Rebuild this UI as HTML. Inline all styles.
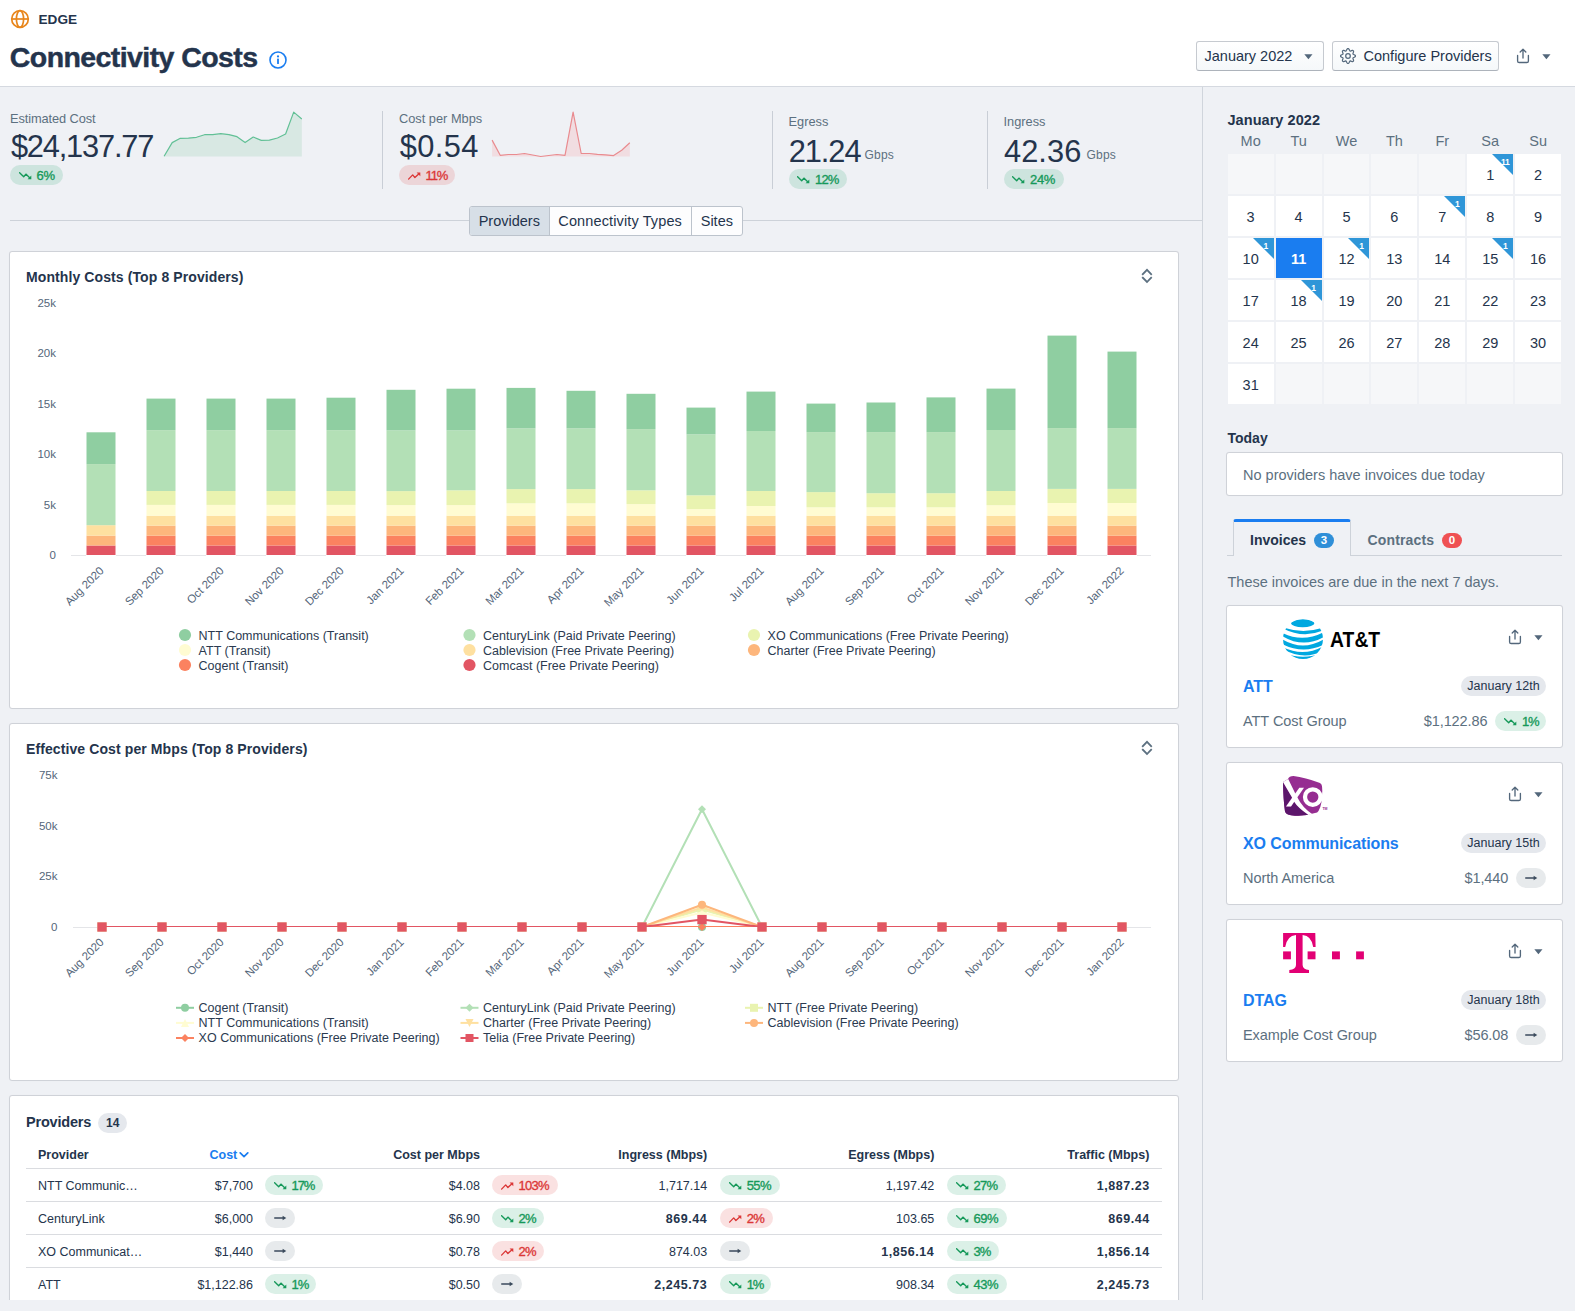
<!DOCTYPE html><html><head><meta charset="utf-8"><title>Connectivity Costs</title><style>
*{box-sizing:border-box}
html,body{margin:0;padding:0}
body{width:1575px;height:1311px;overflow:hidden;background:#eff1f5;font-family:"Liberation Sans",sans-serif;color:#24344c;font-size:14px;position:relative}
.abs{position:absolute}
.t{position:absolute;white-space:nowrap;line-height:1}
.hdr{position:absolute;left:0;top:0;width:1575px;height:87px;background:#fff;border-bottom:1px solid #d5d9e0}
.btn{position:absolute;height:30px;top:41px;border:1px solid #c6cad0;border-bottom-color:#adb3bb;border-radius:3px;background:linear-gradient(#fff,#f5f8fa);}
.muted{color:#5c7080}
.card{position:absolute;background:#fff;border:1px solid #cfd2d8;border-radius:3px;box-shadow:0 0 1px rgba(16,22,26,.06)}
.bd{display:inline-block;position:relative;height:20px;border-radius:10px;font-size:13px;line-height:22px;vertical-align:middle;white-space:nowrap}
.bd b{position:absolute;left:26.6px;top:0;font-weight:400;-webkit-text-stroke:.35px currentColor;letter-spacing:-.1px}
.bd.bg{background:rgba(15,153,96,.15);color:#16995a}
.bd.br{background:rgba(219,55,55,.15);color:#db3737}
.bd.bn{background:rgba(92,112,128,.15);color:#3b4a5c}
.bd .ti{position:absolute;left:8.8px;top:7px}
.bd.bn .ti{top:6.4px}
.vsep{position:absolute;width:1px;background:#c9ced6;top:111px;height:78px}
.tabs{position:absolute;left:469px;top:206px;height:30px;width:274px;display:flex;border:1px solid #bcc3cc;border-radius:3px;background:#fdfdfe;overflow:hidden}
.tabs div{line-height:29.5px;font-size:14.5px;border-right:1px solid #bcc3cc;white-space:nowrap;text-align:center}
.tabs div:last-child{border-right:0}
.tabs .on{background:#d7dfe7}
.cal{position:absolute;left:1227.7px;top:154px;width:333.4px;display:grid;grid-template-columns:repeat(7,1fr);gap:2px}
.cal div{height:40px;background:#fff;text-align:center;line-height:43px;font-size:14.5px;position:relative;overflow:hidden}
.cal .e{background:#f6f7f9}
.cal .sel{background:#1a7df0;color:#fff;font-weight:700}
.cal i{position:absolute;right:0;top:0;width:0;height:0;border-top:21.5px solid #2f96d8;border-left:21.5px solid transparent}
.cal em{position:absolute;right:2.5px;top:2.6px;font-style:normal;font-size:8.5px;font-weight:700;color:#fff;line-height:10px;width:11px;text-align:center;letter-spacing:-.3px}
.dow{position:absolute;top:133px;width:46px;text-align:center;font-size:14.5px;color:#5c7080;line-height:16px}
.pill{position:absolute;height:20px;border-radius:10px;background:#e5e8ed;font-size:12.5px;line-height:21.5px;padding:0 6.4px;white-space:nowrap;color:#24344c}
table{border-collapse:collapse}
.tbl{position:absolute;left:26px;top:1137px;width:1136px;font-size:12.5px}
.tbl .r{position:absolute;left:0;width:1136px;height:33px;border-top:1px solid #dadce0}
.tbl .c{position:absolute;white-space:nowrap;line-height:1;top:11px}
.tbl .h .c{top:11.6px}
.tbl .bn_{letter-spacing:.55px}
.tbl .ra{text-align:right}
.tbl .bd{position:absolute;top:5.5px}
</style></head><body>
<div class="hdr">
<svg class="abs" style="left:10px;top:9px" width="20" height="20" viewBox="0 0 20 20"><g fill="none" stroke="#e8861c" stroke-width="1.7"><circle cx="10" cy="10" r="8.3"/><ellipse cx="10" cy="10" rx="3.6" ry="8.3"/><path d="M1.7 10 H18.3"/></g></svg>
<div class="t" style="left:38.5px;top:13.2px;font-size:13.6px;font-weight:700;letter-spacing:0">EDGE</div>
<h1 class="t" style="margin:0;left:9.8px;top:42.6px;font-size:28.5px;font-weight:700;letter-spacing:-.58px;-webkit-text-stroke:.45px #24344c">Connectivity Costs</h1>
<svg class="abs" style="left:269px;top:51px" width="18" height="18" viewBox="0 0 18 18"><circle cx="9" cy="9" r="8" fill="none" stroke="#1a7df0" stroke-width="1.6"/><rect x="8.1" y="7.6" width="1.8" height="5.4" rx=".6" fill="#1a7df0"/><circle cx="9" cy="5.4" r="1.1" fill="#1a7df0"/></svg>
<div class="btn" style="left:1196px;width:128px"><span class="t" style="left:7.5px;top:7.4px;font-size:14.5px">January 2022</span><span class="abs" style="left:106.7px;top:11.8px;line-height:0"><svg width="9" height="6" viewBox="0 0 9 6"><path d="M0.3 0.3 H8.5 L4.4 5.2 Z" fill="#53677b"/></svg></span></div>
<div class="btn" style="left:1332px;width:167px"><span class="abs" style="left:6.95px;top:5.9px;line-height:0"><svg width="16" height="16" viewBox="0 0 16 16"><path d="M8.00 0.50 L8.48 0.66 L8.91 1.08 L9.26 1.67 L9.53 2.28 L9.78 2.75 L10.07 3.01 L10.45 3.03 L10.96 2.87 L11.58 2.64 L12.25 2.47 L12.85 2.47 L13.30 2.70 L13.53 3.15 L13.53 3.75 L13.36 4.42 L13.13 5.04 L12.97 5.55 L12.99 5.93 L13.25 6.22 L13.72 6.47 L14.33 6.74 L14.92 7.09 L15.34 7.52 L15.50 8.00 L15.34 8.48 L14.92 8.91 L14.33 9.26 L13.72 9.53 L13.25 9.78 L12.99 10.07 L12.97 10.45 L13.13 10.96 L13.36 11.58 L13.53 12.25 L13.53 12.85 L13.30 13.30 L12.85 13.53 L12.25 13.53 L11.58 13.36 L10.96 13.13 L10.45 12.97 L10.07 12.99 L9.78 13.25 L9.53 13.72 L9.26 14.33 L8.91 14.92 L8.48 15.34 L8.00 15.50 L7.52 15.34 L7.09 14.92 L6.74 14.33 L6.47 13.72 L6.22 13.25 L5.93 12.99 L5.55 12.97 L5.04 13.13 L4.42 13.36 L3.75 13.53 L3.15 13.53 L2.70 13.30 L2.47 12.85 L2.47 12.25 L2.64 11.58 L2.87 10.96 L3.03 10.45 L3.01 10.07 L2.75 9.78 L2.28 9.53 L1.67 9.26 L1.08 8.91 L0.66 8.48 L0.50 8.00 L0.66 7.52 L1.08 7.09 L1.67 6.74 L2.28 6.47 L2.75 6.22 L3.01 5.93 L3.03 5.55 L2.87 5.04 L2.64 4.42 L2.47 3.75 L2.47 3.15 L2.70 2.70 L3.15 2.47 L3.75 2.47 L4.42 2.64 L5.04 2.87 L5.55 3.03 L5.93 3.01 L6.22 2.75 L6.47 2.28 L6.74 1.67 L7.09 1.08 L7.52 0.66 Z" fill="none" stroke="#566a7e" stroke-width="1.25" stroke-linejoin="round"/><circle cx="8" cy="8" r="2.3" fill="none" stroke="#566a7e" stroke-width="1.25"/></svg></span><span class="t" style="left:30.5px;top:7.4px;font-size:14.5px">Configure Providers</span></div>
<span class="abs" style="left:1516px;top:48px;line-height:0"><svg width="14" height="16" viewBox="0 0 14 16"><path d="M1.6 7.4 V12.9 a1.6 1.6 0 0 0 1.6 1.6 H10.8 a1.6 1.6 0 0 0 1.6 -1.6 V7.4" fill="none" stroke="#53677b" stroke-width="1.35" stroke-linecap="round"/><path d="M7 10.1 V1.6 M4.2 4.1 L7 1.3 L9.8 4.1" fill="none" stroke="#53677b" stroke-width="1.35" stroke-linecap="round" stroke-linejoin="round"/></svg></span><span class="abs" style="left:1541.7px;top:53.8px;line-height:0"><svg width="9" height="6" viewBox="0 0 9 6"><path d="M0.3 0.3 H8.5 L4.4 5.2 Z" fill="#53677b"/></svg></span>
</div>
<div class="t muted" style="left:10px;top:113.4px;font-size:12.8px;letter-spacing:-.09px">Estimated Cost</div>
<div class="t" style="left:10.9px;top:132.4px;font-size:30.8px;letter-spacing:-1.18px">$24,137.77</div>
<svg class="abs" style="left:0;top:100px" width="700" height="70" viewBox="0 100 700 70"><path d="M164.1 156.3 L172.2 142.6 L180.3 138.3 L188.4 138.1 L196.5 137.3 L204.6 134.7 L212.7 134.7 L220.8 133.7 L228.9 134.7 L237.0 136.7 L245.1 142.6 L253.2 137.0 L261.3 140.4 L269.4 140.1 L277.5 138.0 L285.6 134.0 L293.7 112.1 L301.8 119.0 L301.8 156.4 L164.1 156.4 Z" fill="#d8e8e3"/><path d="M164.1 156.3 L172.2 142.6 L180.3 138.3 L188.4 138.1 L196.5 137.3 L204.6 134.7 L212.7 134.7 L220.8 133.7 L228.9 134.7 L237.0 136.7 L245.1 142.6 L253.2 137.0 L261.3 140.4 L269.4 140.1 L277.5 138.0 L285.6 134.0 L293.7 112.1 L301.8 119.0" fill="none" stroke="#62c096" stroke-width="1.2" stroke-linejoin="round"/></svg>
<div class="abs" style="left:10px;top:164.5px"><span class="bd bg" style="width:53.2px;"><svg class="ti" width="13" height="8" viewBox="0 0 13 8"><path d="M0.6 0.7 L4.7 4.8 L6.9 2.1 L10.4 5.6" fill="none" stroke="#16995a" stroke-width="1.35" stroke-linecap="round" stroke-linejoin="round"/><path d="M12.3 3.6 V7.2 H8.6 Z" fill="#16995a"/></svg><b style="letter-spacing:-0.44px">6%</b></span></div>
<div class="vsep" style="left:382px"></div>
<div class="t muted" style="left:399px;top:113.4px;font-size:12.8px">Cost per Mbps</div>
<div class="t" style="left:399.8px;top:132.4px;font-size:30.8px;letter-spacing:.4px">$0.54</div>
<svg class="abs" style="left:0;top:100px" width="700" height="70" viewBox="0 100 700 70"><path d="M492.1 140.1 L500.2 155.3 L508.3 154.5 L516.4 154.5 L524.5 153.5 L532.6 155.0 L540.7 156.5 L548.8 155.5 L556.9 154.5 L565.0 155.3 L573.1 112.1 L581.2 153.5 L589.3 153.5 L597.4 154.3 L605.5 154.8 L613.6 155.6 L621.7 150.2 L629.8 142.8 L629.8 156.4 L492.1 156.4 Z" fill="#f1dde1"/><path d="M492.1 140.1 L500.2 155.3 L508.3 154.5 L516.4 154.5 L524.5 153.5 L532.6 155.0 L540.7 156.5 L548.8 155.5 L556.9 154.5 L565.0 155.3 L573.1 112.1 L581.2 153.5 L589.3 153.5 L597.4 154.3 L605.5 154.8 L613.6 155.6 L621.7 150.2 L629.8 142.8" fill="none" stroke="#e98b8f" stroke-width="1.2" stroke-linejoin="round"/></svg>
<div class="abs" style="left:399px;top:164.5px"><span class="bd br" style="width:56.4px;"><svg class="ti" width="13" height="8" viewBox="0 0 13 8"><path d="M0.6 7.1 L4.7 2.9 L6.9 5.6 L10.4 2.2" fill="none" stroke="#db3737" stroke-width="1.35" stroke-linecap="round" stroke-linejoin="round"/><path d="M12.3 4.2 V0.6 H8.6 Z" fill="#db3737"/></svg><b style="letter-spacing:-1.15px">11%</b></span></div>
<div class="vsep" style="left:772px"></div>
<div class="t muted" style="left:788.5px;top:116px;font-size:12.8px">Egress</div>
<div class="t" style="left:788.7px;top:137.4px;font-size:30.8px;letter-spacing:-1.05px">21.24</div>
<div class="t muted" style="left:864.5px;top:148.5px;font-size:12px;letter-spacing:.2px">Gbps</div>
<div class="abs" style="left:788.5px;top:169px"><span class="bd bg" style="width:58.5px;"><svg class="ti" width="13" height="8" viewBox="0 0 13 8"><path d="M0.6 0.7 L4.7 4.8 L6.9 2.1 L10.4 5.6" fill="none" stroke="#16995a" stroke-width="1.35" stroke-linecap="round" stroke-linejoin="round"/><path d="M12.3 3.6 V7.2 H8.6 Z" fill="#16995a"/></svg><b style="letter-spacing:-0.94px">12%</b></span></div>
<div class="vsep" style="left:987px"></div>
<div class="t muted" style="left:1003.5px;top:116px;font-size:12.8px">Ingress</div>
<div class="t" style="left:1004px;top:137.4px;font-size:30.8px;letter-spacing:.05px">42.36</div>
<div class="t muted" style="left:1086.5px;top:148.5px;font-size:12px;letter-spacing:.2px">Gbps</div>
<div class="abs" style="left:1003.5px;top:169px"><span class="bd bg" style="width:60.1px;"><svg class="ti" width="13" height="8" viewBox="0 0 13 8"><path d="M0.6 0.7 L4.7 4.8 L6.9 2.1 L10.4 5.6" fill="none" stroke="#16995a" stroke-width="1.35" stroke-linecap="round" stroke-linejoin="round"/><path d="M12.3 3.6 V7.2 H8.6 Z" fill="#16995a"/></svg><b style="letter-spacing:-0.40px">24%</b></span></div>
<div class="abs" style="left:10px;top:220px;width:1192px;height:1px;background:#cdd2d9"></div>
<div class="tabs"><div class="on" style="width:79.6px">Providers</div><div style="width:142.1px;letter-spacing:.12px">Connectivity Types</div><div style="flex:1">Sites</div></div>
<section class="card" style="left:9px;top:251px;width:1170px;height:458px"></section>
<div class="t" style="left:26px;top:270px;font-size:14px;font-weight:700;letter-spacing:.1px">Monthly Costs (Top 8 Providers)</div>
<span class="abs" style="left:1141px;top:268px;line-height:0"><svg width="12" height="16" viewBox="0 0 12 16"><path d="M1.8 6.2 L6 1.9 L10.1 6.2 M1.8 9.7 L6 14 L10.1 9.7" fill="none" stroke="#5c7080" stroke-width="1.8" stroke-linecap="square" stroke-linejoin="miter"/></svg></span>
<svg class="abs" style="left:0;top:252px;font-family:'Liberation Sans', sans-serif" width="1190" height="460" viewBox="0 252 1190 460"><path d="M71 555.5 H1151" stroke="#e4e5e8" stroke-width="1"/><rect x="86.5" y="545.5" width="29" height="9.5" fill="#e25563"/><rect x="86.5" y="535.6" width="29" height="9.9" fill="#fdb67c"/><rect x="86.5" y="525.2" width="29" height="10.4" fill="#fee0a0"/><rect x="86.5" y="464.1" width="29" height="61.1" fill="#b3e0b6"/><rect x="86.5" y="432.3" width="29" height="31.8" fill="#8fcea1"/><rect x="86.0" y="555" width="30" height="1" fill="#fff"/><rect x="146.5" y="545.5" width="29" height="9.5" fill="#e25563"/><rect x="146.5" y="535.7" width="29" height="9.8" fill="#fb8260"/><rect x="146.5" y="525.6" width="29" height="10.1" fill="#fdb67c"/><rect x="146.5" y="515.7" width="29" height="9.9" fill="#fee0a0"/><rect x="146.5" y="504.9" width="29" height="10.8" fill="#fffcd2"/><rect x="146.5" y="491.0" width="29" height="13.9" fill="#e9f3b0"/><rect x="146.5" y="430.2" width="29" height="60.8" fill="#b3e0b6"/><rect x="146.5" y="398.6" width="29" height="31.6" fill="#8fcea1"/><rect x="146.0" y="555" width="30" height="1" fill="#fff"/><rect x="206.5" y="545.5" width="29" height="9.5" fill="#e25563"/><rect x="206.5" y="535.7" width="29" height="9.8" fill="#fb8260"/><rect x="206.5" y="525.6" width="29" height="10.1" fill="#fdb67c"/><rect x="206.5" y="515.7" width="29" height="9.9" fill="#fee0a0"/><rect x="206.5" y="504.9" width="29" height="10.8" fill="#fffcd2"/><rect x="206.5" y="491.0" width="29" height="13.9" fill="#e9f3b0"/><rect x="206.5" y="430.2" width="29" height="60.8" fill="#b3e0b6"/><rect x="206.5" y="398.6" width="29" height="31.6" fill="#8fcea1"/><rect x="206.0" y="555" width="30" height="1" fill="#fff"/><rect x="266.5" y="545.5" width="29" height="9.5" fill="#e25563"/><rect x="266.5" y="535.7" width="29" height="9.8" fill="#fb8260"/><rect x="266.5" y="525.6" width="29" height="10.1" fill="#fdb67c"/><rect x="266.5" y="515.7" width="29" height="9.9" fill="#fee0a0"/><rect x="266.5" y="504.9" width="29" height="10.8" fill="#fffcd2"/><rect x="266.5" y="491.0" width="29" height="13.9" fill="#e9f3b0"/><rect x="266.5" y="430.2" width="29" height="60.8" fill="#b3e0b6"/><rect x="266.5" y="398.6" width="29" height="31.6" fill="#8fcea1"/><rect x="266.0" y="555" width="30" height="1" fill="#fff"/><rect x="326.5" y="545.5" width="29" height="9.5" fill="#e25563"/><rect x="326.5" y="535.7" width="29" height="9.8" fill="#fb8260"/><rect x="326.5" y="525.6" width="29" height="10.1" fill="#fdb67c"/><rect x="326.5" y="515.7" width="29" height="9.9" fill="#fee0a0"/><rect x="326.5" y="504.9" width="29" height="10.8" fill="#fffcd2"/><rect x="326.5" y="491.0" width="29" height="13.9" fill="#e9f3b0"/><rect x="326.5" y="430.2" width="29" height="60.8" fill="#b3e0b6"/><rect x="326.5" y="397.7" width="29" height="32.5" fill="#8fcea1"/><rect x="326.0" y="555" width="30" height="1" fill="#fff"/><rect x="386.5" y="545.5" width="29" height="9.5" fill="#e25563"/><rect x="386.5" y="535.7" width="29" height="9.8" fill="#fb8260"/><rect x="386.5" y="525.6" width="29" height="10.1" fill="#fdb67c"/><rect x="386.5" y="515.7" width="29" height="9.9" fill="#fee0a0"/><rect x="386.5" y="505.1" width="29" height="10.6" fill="#fffcd2"/><rect x="386.5" y="491.1" width="29" height="14.0" fill="#e9f3b0"/><rect x="386.5" y="430.3" width="29" height="60.8" fill="#b3e0b6"/><rect x="386.5" y="389.8" width="29" height="40.5" fill="#8fcea1"/><rect x="386.0" y="555" width="30" height="1" fill="#fff"/><rect x="446.5" y="545.5" width="29" height="9.5" fill="#e25563"/><rect x="446.5" y="535.7" width="29" height="9.8" fill="#fb8260"/><rect x="446.5" y="525.6" width="29" height="10.1" fill="#fdb67c"/><rect x="446.5" y="515.7" width="29" height="9.9" fill="#fee0a0"/><rect x="446.5" y="505.1" width="29" height="10.6" fill="#fffcd2"/><rect x="446.5" y="490.3" width="29" height="14.8" fill="#e9f3b0"/><rect x="446.5" y="430.3" width="29" height="60.0" fill="#b3e0b6"/><rect x="446.5" y="388.7" width="29" height="41.6" fill="#8fcea1"/><rect x="446.0" y="555" width="30" height="1" fill="#fff"/><rect x="506.5" y="545.5" width="29" height="9.5" fill="#e25563"/><rect x="506.5" y="535.7" width="29" height="9.8" fill="#fb8260"/><rect x="506.5" y="525.6" width="29" height="10.1" fill="#fdb67c"/><rect x="506.5" y="515.7" width="29" height="9.9" fill="#fee0a0"/><rect x="506.5" y="503.3" width="29" height="12.4" fill="#fffcd2"/><rect x="506.5" y="489.1" width="29" height="14.2" fill="#e9f3b0"/><rect x="506.5" y="428.3" width="29" height="60.8" fill="#b3e0b6"/><rect x="506.5" y="387.9" width="29" height="40.4" fill="#8fcea1"/><rect x="506.0" y="555" width="30" height="1" fill="#fff"/><rect x="566.5" y="545.5" width="29" height="9.5" fill="#e25563"/><rect x="566.5" y="535.7" width="29" height="9.8" fill="#fb8260"/><rect x="566.5" y="525.6" width="29" height="10.1" fill="#fdb67c"/><rect x="566.5" y="515.7" width="29" height="9.9" fill="#fee0a0"/><rect x="566.5" y="503.3" width="29" height="12.4" fill="#fffcd2"/><rect x="566.5" y="489.1" width="29" height="14.2" fill="#e9f3b0"/><rect x="566.5" y="428.3" width="29" height="60.8" fill="#b3e0b6"/><rect x="566.5" y="390.8" width="29" height="37.5" fill="#8fcea1"/><rect x="566.0" y="555" width="30" height="1" fill="#fff"/><rect x="626.5" y="545.5" width="29" height="9.5" fill="#e25563"/><rect x="626.5" y="535.7" width="29" height="9.8" fill="#fb8260"/><rect x="626.5" y="525.6" width="29" height="10.1" fill="#fdb67c"/><rect x="626.5" y="515.7" width="29" height="9.9" fill="#fee0a0"/><rect x="626.5" y="504.1" width="29" height="11.6" fill="#fffcd2"/><rect x="626.5" y="490.3" width="29" height="13.8" fill="#e9f3b0"/><rect x="626.5" y="429.1" width="29" height="61.2" fill="#b3e0b6"/><rect x="626.5" y="393.8" width="29" height="35.3" fill="#8fcea1"/><rect x="626.0" y="555" width="30" height="1" fill="#fff"/><rect x="686.5" y="545.5" width="29" height="9.5" fill="#e25563"/><rect x="686.5" y="535.7" width="29" height="9.8" fill="#fb8260"/><rect x="686.5" y="525.6" width="29" height="10.1" fill="#fdb67c"/><rect x="686.5" y="515.7" width="29" height="9.9" fill="#fee0a0"/><rect x="686.5" y="509.1" width="29" height="6.6" fill="#fffcd2"/><rect x="686.5" y="495.3" width="29" height="13.8" fill="#e9f3b0"/><rect x="686.5" y="434.3" width="29" height="61.0" fill="#b3e0b6"/><rect x="686.5" y="407.6" width="29" height="26.7" fill="#8fcea1"/><rect x="686.0" y="555" width="30" height="1" fill="#fff"/><rect x="746.5" y="545.5" width="29" height="9.5" fill="#e25563"/><rect x="746.5" y="535.7" width="29" height="9.8" fill="#fb8260"/><rect x="746.5" y="525.6" width="29" height="10.1" fill="#fdb67c"/><rect x="746.5" y="515.7" width="29" height="9.9" fill="#fee0a0"/><rect x="746.5" y="506.0" width="29" height="9.7" fill="#fffcd2"/><rect x="746.5" y="491.0" width="29" height="15.0" fill="#e9f3b0"/><rect x="746.5" y="431.0" width="29" height="60.0" fill="#b3e0b6"/><rect x="746.5" y="391.6" width="29" height="39.4" fill="#8fcea1"/><rect x="746.0" y="555" width="30" height="1" fill="#fff"/><rect x="806.5" y="545.5" width="29" height="9.5" fill="#e25563"/><rect x="806.5" y="535.7" width="29" height="9.8" fill="#fb8260"/><rect x="806.5" y="525.6" width="29" height="10.1" fill="#fdb67c"/><rect x="806.5" y="515.7" width="29" height="9.9" fill="#fee0a0"/><rect x="806.5" y="507.3" width="29" height="8.4" fill="#fffcd2"/><rect x="806.5" y="492.1" width="29" height="15.2" fill="#e9f3b0"/><rect x="806.5" y="432.1" width="29" height="60.0" fill="#b3e0b6"/><rect x="806.5" y="403.6" width="29" height="28.5" fill="#8fcea1"/><rect x="806.0" y="555" width="30" height="1" fill="#fff"/><rect x="866.5" y="545.5" width="29" height="9.5" fill="#e25563"/><rect x="866.5" y="535.7" width="29" height="9.8" fill="#fb8260"/><rect x="866.5" y="525.6" width="29" height="10.1" fill="#fdb67c"/><rect x="866.5" y="515.7" width="29" height="9.9" fill="#fee0a0"/><rect x="866.5" y="507.3" width="29" height="8.4" fill="#fffcd2"/><rect x="866.5" y="493.2" width="29" height="14.1" fill="#e9f3b0"/><rect x="866.5" y="432.1" width="29" height="61.1" fill="#b3e0b6"/><rect x="866.5" y="402.5" width="29" height="29.6" fill="#8fcea1"/><rect x="866.0" y="555" width="30" height="1" fill="#fff"/><rect x="926.5" y="545.5" width="29" height="9.5" fill="#e25563"/><rect x="926.5" y="535.7" width="29" height="9.8" fill="#fb8260"/><rect x="926.5" y="525.6" width="29" height="10.1" fill="#fdb67c"/><rect x="926.5" y="515.7" width="29" height="9.9" fill="#fee0a0"/><rect x="926.5" y="507.3" width="29" height="8.4" fill="#fffcd2"/><rect x="926.5" y="493.2" width="29" height="14.1" fill="#e9f3b0"/><rect x="926.5" y="432.1" width="29" height="61.1" fill="#b3e0b6"/><rect x="926.5" y="397.4" width="29" height="34.7" fill="#8fcea1"/><rect x="926.0" y="555" width="30" height="1" fill="#fff"/><rect x="986.5" y="545.5" width="29" height="9.5" fill="#e25563"/><rect x="986.5" y="535.7" width="29" height="9.8" fill="#fb8260"/><rect x="986.5" y="525.6" width="29" height="10.1" fill="#fdb67c"/><rect x="986.5" y="515.7" width="29" height="9.9" fill="#fee0a0"/><rect x="986.5" y="505.2" width="29" height="10.5" fill="#fffcd2"/><rect x="986.5" y="491.0" width="29" height="14.2" fill="#e9f3b0"/><rect x="986.5" y="430.0" width="29" height="61.0" fill="#b3e0b6"/><rect x="986.5" y="388.6" width="29" height="41.4" fill="#8fcea1"/><rect x="986.0" y="555" width="30" height="1" fill="#fff"/><rect x="1047.5" y="545.5" width="29" height="9.5" fill="#e25563"/><rect x="1047.5" y="535.7" width="29" height="9.8" fill="#fb8260"/><rect x="1047.5" y="525.6" width="29" height="10.1" fill="#fdb67c"/><rect x="1047.5" y="515.7" width="29" height="9.9" fill="#fee0a0"/><rect x="1047.5" y="503.0" width="29" height="12.7" fill="#fffcd2"/><rect x="1047.5" y="488.9" width="29" height="14.1" fill="#e9f3b0"/><rect x="1047.5" y="428.1" width="29" height="60.8" fill="#b3e0b6"/><rect x="1047.5" y="335.6" width="29" height="92.5" fill="#8fcea1"/><rect x="1047.0" y="555" width="30" height="1" fill="#fff"/><rect x="1107.5" y="545.5" width="29" height="9.5" fill="#e25563"/><rect x="1107.5" y="535.7" width="29" height="9.8" fill="#fb8260"/><rect x="1107.5" y="525.6" width="29" height="10.1" fill="#fdb67c"/><rect x="1107.5" y="515.7" width="29" height="9.9" fill="#fee0a0"/><rect x="1107.5" y="503.0" width="29" height="12.7" fill="#fffcd2"/><rect x="1107.5" y="488.9" width="29" height="14.1" fill="#e9f3b0"/><rect x="1107.5" y="428.1" width="29" height="60.8" fill="#b3e0b6"/><rect x="1107.5" y="351.6" width="29" height="76.5" fill="#8fcea1"/><rect x="1107.0" y="555" width="30" height="1" fill="#fff"/><g font-size="11.5" fill="#54667a"><text x="56" y="307" text-anchor="end">25k</text><text x="56" y="357.4" text-anchor="end">20k</text><text x="56" y="407.8" text-anchor="end">15k</text><text x="56" y="458.2" text-anchor="end">10k</text><text x="56" y="508.6" text-anchor="end">5k</text><text x="56" y="559" text-anchor="end">0</text><text x="104.5" y="571.5" text-anchor="end" transform="rotate(-45 104.5 571.5)">Aug 2020</text><text x="164.5" y="571.5" text-anchor="end" transform="rotate(-45 164.5 571.5)">Sep 2020</text><text x="224.5" y="571.5" text-anchor="end" transform="rotate(-45 224.5 571.5)">Oct 2020</text><text x="284.5" y="571.5" text-anchor="end" transform="rotate(-45 284.5 571.5)">Nov 2020</text><text x="344.5" y="571.5" text-anchor="end" transform="rotate(-45 344.5 571.5)">Dec 2020</text><text x="404.5" y="571.5" text-anchor="end" transform="rotate(-45 404.5 571.5)">Jan 2021</text><text x="464.5" y="571.5" text-anchor="end" transform="rotate(-45 464.5 571.5)">Feb 2021</text><text x="524.5" y="571.5" text-anchor="end" transform="rotate(-45 524.5 571.5)">Mar 2021</text><text x="584.5" y="571.5" text-anchor="end" transform="rotate(-45 584.5 571.5)">Apr 2021</text><text x="644.5" y="571.5" text-anchor="end" transform="rotate(-45 644.5 571.5)">May 2021</text><text x="704.5" y="571.5" text-anchor="end" transform="rotate(-45 704.5 571.5)">Jun 2021</text><text x="764.5" y="571.5" text-anchor="end" transform="rotate(-45 764.5 571.5)">Jul 2021</text><text x="824.5" y="571.5" text-anchor="end" transform="rotate(-45 824.5 571.5)">Aug 2021</text><text x="884.5" y="571.5" text-anchor="end" transform="rotate(-45 884.5 571.5)">Sep 2021</text><text x="944.5" y="571.5" text-anchor="end" transform="rotate(-45 944.5 571.5)">Oct 2021</text><text x="1004.5" y="571.5" text-anchor="end" transform="rotate(-45 1004.5 571.5)">Nov 2021</text><text x="1064.5" y="571.5" text-anchor="end" transform="rotate(-45 1064.5 571.5)">Dec 2021</text><text x="1124.5" y="571.5" text-anchor="end" transform="rotate(-45 1124.5 571.5)">Jan 2022</text></g><g font-size="12.5" fill="#2b3a50"><circle cx="185" cy="635" r="6.1" fill="#8fcea1"/><text x="198.6" y="639.8">NTT Communications (Transit)</text><circle cx="469.5" cy="635" r="6.1" fill="#b3e0b6"/><text x="483.1" y="639.8">CenturyLink (Paid Private Peering)</text><circle cx="754" cy="635" r="6.1" fill="#e9f3b0"/><text x="767.6" y="639.8">XO Communications (Free Private Peering)</text><circle cx="185" cy="650" r="6.1" fill="#fffcd2"/><text x="198.6" y="654.8">ATT (Transit)</text><circle cx="469.5" cy="650" r="6.1" fill="#fee0a0"/><text x="483.1" y="654.8">Cablevision (Free Private Peering)</text><circle cx="754" cy="650" r="6.1" fill="#fdb67c"/><text x="767.6" y="654.8">Charter (Free Private Peering)</text><circle cx="185" cy="665" r="6.1" fill="#fb8260"/><text x="198.6" y="669.8">Cogent (Transit)</text><circle cx="469.5" cy="665" r="6.1" fill="#e25563"/><text x="483.1" y="669.8">Comcast (Free Private Peering)</text></g></svg>
<section class="card" style="left:9px;top:723px;width:1170px;height:358px"></section>
<div class="t" style="left:26px;top:742px;font-size:14px;font-weight:700;letter-spacing:.1px">Effective Cost per Mbps (Top 8 Providers)</div>
<span class="abs" style="left:1141px;top:740px;line-height:0"><svg width="12" height="16" viewBox="0 0 12 16"><path d="M1.8 6.2 L6 1.9 L10.1 6.2 M1.8 9.7 L6 14 L10.1 9.7" fill="none" stroke="#5c7080" stroke-width="1.8" stroke-linecap="square" stroke-linejoin="miter"/></svg></span>
<svg class="abs" style="left:0;top:724px;font-family:'Liberation Sans', sans-serif" width="1190" height="360" viewBox="0 724 1190 360"><defs><clipPath id="lc"><rect x="60" y="724" width="1110" height="203.0"/></clipPath></defs><path d="M73 927.5 H100 M1124 927.5 H1151" stroke="#e4e5e8" stroke-width="1"/><path clip-path="url(#lc)" d="M102 927.0 L162 927.0 L222 927.0 L282 927.0 L342 927.0 L402 927.0 L462 927.0 L522 927.0 L582 927.0 L642 927.0 L702 927.0 L762 927.0 L822 927.0 L882 927.0 L942 927.0 L1002 927.0 L1062 927.0 L1122 927.0" fill="none" stroke="#8fcea1" stroke-width="2" stroke-linejoin="round"/><circle cx="102" cy="927.0" r="4.0" fill="#8fcea1"/><circle cx="162" cy="927.0" r="4.0" fill="#8fcea1"/><circle cx="222" cy="927.0" r="4.0" fill="#8fcea1"/><circle cx="282" cy="927.0" r="4.0" fill="#8fcea1"/><circle cx="342" cy="927.0" r="4.0" fill="#8fcea1"/><circle cx="402" cy="927.0" r="4.0" fill="#8fcea1"/><circle cx="462" cy="927.0" r="4.0" fill="#8fcea1"/><circle cx="522" cy="927.0" r="4.0" fill="#8fcea1"/><circle cx="582" cy="927.0" r="4.0" fill="#8fcea1"/><circle cx="642" cy="927.0" r="4.0" fill="#8fcea1"/><circle cx="702" cy="927.0" r="4.0" fill="#8fcea1"/><circle cx="762" cy="927.0" r="4.0" fill="#8fcea1"/><circle cx="822" cy="927.0" r="4.0" fill="#8fcea1"/><circle cx="882" cy="927.0" r="4.0" fill="#8fcea1"/><circle cx="942" cy="927.0" r="4.0" fill="#8fcea1"/><circle cx="1002" cy="927.0" r="4.0" fill="#8fcea1"/><circle cx="1062" cy="927.0" r="4.0" fill="#8fcea1"/><circle cx="1122" cy="927.0" r="4.0" fill="#8fcea1"/><path clip-path="url(#lc)" d="M102 927.0 L162 927.0 L222 927.0 L282 927.0 L342 927.0 L402 927.0 L462 927.0 L522 927.0 L582 927.0 L642 927.0 L702 809.2 L762 927.0 L822 927.0 L882 927.0 L942 927.0 L1002 927.0 L1062 927.0 L1122 927.0" fill="none" stroke="#b3e0b6" stroke-width="2" stroke-linejoin="round"/><path d="M102 923.0 L106.0 927.0 L102 931.0 L98.0 927.0 Z" fill="#b3e0b6"/><path d="M162 923.0 L166.0 927.0 L162 931.0 L158.0 927.0 Z" fill="#b3e0b6"/><path d="M222 923.0 L226.0 927.0 L222 931.0 L218.0 927.0 Z" fill="#b3e0b6"/><path d="M282 923.0 L286.0 927.0 L282 931.0 L278.0 927.0 Z" fill="#b3e0b6"/><path d="M342 923.0 L346.0 927.0 L342 931.0 L338.0 927.0 Z" fill="#b3e0b6"/><path d="M402 923.0 L406.0 927.0 L402 931.0 L398.0 927.0 Z" fill="#b3e0b6"/><path d="M462 923.0 L466.0 927.0 L462 931.0 L458.0 927.0 Z" fill="#b3e0b6"/><path d="M522 923.0 L526.0 927.0 L522 931.0 L518.0 927.0 Z" fill="#b3e0b6"/><path d="M582 923.0 L586.0 927.0 L582 931.0 L578.0 927.0 Z" fill="#b3e0b6"/><path d="M642 923.0 L646.0 927.0 L642 931.0 L638.0 927.0 Z" fill="#b3e0b6"/><path d="M702 805.2 L706.0 809.2 L702 813.2 L698.0 809.2 Z" fill="#b3e0b6"/><path d="M762 923.0 L766.0 927.0 L762 931.0 L758.0 927.0 Z" fill="#b3e0b6"/><path d="M822 923.0 L826.0 927.0 L822 931.0 L818.0 927.0 Z" fill="#b3e0b6"/><path d="M882 923.0 L886.0 927.0 L882 931.0 L878.0 927.0 Z" fill="#b3e0b6"/><path d="M942 923.0 L946.0 927.0 L942 931.0 L938.0 927.0 Z" fill="#b3e0b6"/><path d="M1002 923.0 L1006.0 927.0 L1002 931.0 L998.0 927.0 Z" fill="#b3e0b6"/><path d="M1062 923.0 L1066.0 927.0 L1062 931.0 L1058.0 927.0 Z" fill="#b3e0b6"/><path d="M1122 923.0 L1126.0 927.0 L1122 931.0 L1118.0 927.0 Z" fill="#b3e0b6"/><path clip-path="url(#lc)" d="M102 927.0 L162 927.0 L222 927.0 L282 927.0 L342 927.0 L402 927.0 L462 927.0 L522 927.0 L582 927.0 L642 927.0 L702 909.5 L762 927.0 L822 927.0 L882 927.0 L942 927.0 L1002 927.0 L1062 927.0 L1122 927.0" fill="none" stroke="#e9f3b0" stroke-width="2" stroke-linejoin="round"/><rect x="97.32" y="922.32" width="9.36" height="9.36" fill="#e9f3b0"/><rect x="157.32" y="922.32" width="9.36" height="9.36" fill="#e9f3b0"/><rect x="217.32" y="922.32" width="9.36" height="9.36" fill="#e9f3b0"/><rect x="277.32" y="922.32" width="9.36" height="9.36" fill="#e9f3b0"/><rect x="337.32" y="922.32" width="9.36" height="9.36" fill="#e9f3b0"/><rect x="397.32" y="922.32" width="9.36" height="9.36" fill="#e9f3b0"/><rect x="457.32" y="922.32" width="9.36" height="9.36" fill="#e9f3b0"/><rect x="517.32" y="922.32" width="9.36" height="9.36" fill="#e9f3b0"/><rect x="577.32" y="922.32" width="9.36" height="9.36" fill="#e9f3b0"/><rect x="637.32" y="922.32" width="9.36" height="9.36" fill="#e9f3b0"/><rect x="697.32" y="904.82" width="9.36" height="9.36" fill="#e9f3b0"/><rect x="757.32" y="922.32" width="9.36" height="9.36" fill="#e9f3b0"/><rect x="817.32" y="922.32" width="9.36" height="9.36" fill="#e9f3b0"/><rect x="877.32" y="922.32" width="9.36" height="9.36" fill="#e9f3b0"/><rect x="937.32" y="922.32" width="9.36" height="9.36" fill="#e9f3b0"/><rect x="997.32" y="922.32" width="9.36" height="9.36" fill="#e9f3b0"/><rect x="1057.32" y="922.32" width="9.36" height="9.36" fill="#e9f3b0"/><rect x="1117.32" y="922.32" width="9.36" height="9.36" fill="#e9f3b0"/><path clip-path="url(#lc)" d="M102 927.0 L162 927.0 L222 927.0 L282 927.0 L342 927.0 L402 927.0 L462 927.0 L522 927.0 L582 927.0 L642 927.0 L702 912.5 L762 927.0 L822 927.0 L882 927.0 L942 927.0 L1002 927.0 L1062 927.0 L1122 927.0" fill="none" stroke="#fffcd2" stroke-width="2" stroke-linejoin="round"/><path d="M102 923.0 L106.0 931.0 L98.0 931.0 Z" fill="#fffcd2"/><path d="M162 923.0 L166.0 931.0 L158.0 931.0 Z" fill="#fffcd2"/><path d="M222 923.0 L226.0 931.0 L218.0 931.0 Z" fill="#fffcd2"/><path d="M282 923.0 L286.0 931.0 L278.0 931.0 Z" fill="#fffcd2"/><path d="M342 923.0 L346.0 931.0 L338.0 931.0 Z" fill="#fffcd2"/><path d="M402 923.0 L406.0 931.0 L398.0 931.0 Z" fill="#fffcd2"/><path d="M462 923.0 L466.0 931.0 L458.0 931.0 Z" fill="#fffcd2"/><path d="M522 923.0 L526.0 931.0 L518.0 931.0 Z" fill="#fffcd2"/><path d="M582 923.0 L586.0 931.0 L578.0 931.0 Z" fill="#fffcd2"/><path d="M642 923.0 L646.0 931.0 L638.0 931.0 Z" fill="#fffcd2"/><path d="M702 908.5 L706.0 916.5 L698.0 916.5 Z" fill="#fffcd2"/><path d="M762 923.0 L766.0 931.0 L758.0 931.0 Z" fill="#fffcd2"/><path d="M822 923.0 L826.0 931.0 L818.0 931.0 Z" fill="#fffcd2"/><path d="M882 923.0 L886.0 931.0 L878.0 931.0 Z" fill="#fffcd2"/><path d="M942 923.0 L946.0 931.0 L938.0 931.0 Z" fill="#fffcd2"/><path d="M1002 923.0 L1006.0 931.0 L998.0 931.0 Z" fill="#fffcd2"/><path d="M1062 923.0 L1066.0 931.0 L1058.0 931.0 Z" fill="#fffcd2"/><path d="M1122 923.0 L1126.0 931.0 L1118.0 931.0 Z" fill="#fffcd2"/><path clip-path="url(#lc)" d="M102 927.0 L162 927.0 L222 927.0 L282 927.0 L342 927.0 L402 927.0 L462 927.0 L522 927.0 L582 927.0 L642 927.0 L702 907.5 L762 927.0 L822 927.0 L882 927.0 L942 927.0 L1002 927.0 L1062 927.0 L1122 927.0" fill="none" stroke="#fee0a0" stroke-width="2" stroke-linejoin="round"/><path d="M98.0 923.0 L106.0 923.0 L102 931.0 Z" fill="#fee0a0"/><path d="M158.0 923.0 L166.0 923.0 L162 931.0 Z" fill="#fee0a0"/><path d="M218.0 923.0 L226.0 923.0 L222 931.0 Z" fill="#fee0a0"/><path d="M278.0 923.0 L286.0 923.0 L282 931.0 Z" fill="#fee0a0"/><path d="M338.0 923.0 L346.0 923.0 L342 931.0 Z" fill="#fee0a0"/><path d="M398.0 923.0 L406.0 923.0 L402 931.0 Z" fill="#fee0a0"/><path d="M458.0 923.0 L466.0 923.0 L462 931.0 Z" fill="#fee0a0"/><path d="M518.0 923.0 L526.0 923.0 L522 931.0 Z" fill="#fee0a0"/><path d="M578.0 923.0 L586.0 923.0 L582 931.0 Z" fill="#fee0a0"/><path d="M638.0 923.0 L646.0 923.0 L642 931.0 Z" fill="#fee0a0"/><path d="M698.0 903.5 L706.0 903.5 L702 911.5 Z" fill="#fee0a0"/><path d="M758.0 923.0 L766.0 923.0 L762 931.0 Z" fill="#fee0a0"/><path d="M818.0 923.0 L826.0 923.0 L822 931.0 Z" fill="#fee0a0"/><path d="M878.0 923.0 L886.0 923.0 L882 931.0 Z" fill="#fee0a0"/><path d="M938.0 923.0 L946.0 923.0 L942 931.0 Z" fill="#fee0a0"/><path d="M998.0 923.0 L1006.0 923.0 L1002 931.0 Z" fill="#fee0a0"/><path d="M1058.0 923.0 L1066.0 923.0 L1062 931.0 Z" fill="#fee0a0"/><path d="M1118.0 923.0 L1126.0 923.0 L1122 931.0 Z" fill="#fee0a0"/><path clip-path="url(#lc)" d="M102 927.0 L162 927.0 L222 927.0 L282 927.0 L342 927.0 L402 927.0 L462 927.0 L522 927.0 L582 927.0 L642 927.0 L702 904.8 L762 927.0 L822 927.0 L882 927.0 L942 927.0 L1002 927.0 L1062 927.0 L1122 927.0" fill="none" stroke="#fdb67c" stroke-width="2" stroke-linejoin="round"/><circle cx="102" cy="927.0" r="4.0" fill="#fdb67c"/><circle cx="162" cy="927.0" r="4.0" fill="#fdb67c"/><circle cx="222" cy="927.0" r="4.0" fill="#fdb67c"/><circle cx="282" cy="927.0" r="4.0" fill="#fdb67c"/><circle cx="342" cy="927.0" r="4.0" fill="#fdb67c"/><circle cx="402" cy="927.0" r="4.0" fill="#fdb67c"/><circle cx="462" cy="927.0" r="4.0" fill="#fdb67c"/><circle cx="522" cy="927.0" r="4.0" fill="#fdb67c"/><circle cx="582" cy="927.0" r="4.0" fill="#fdb67c"/><circle cx="642" cy="927.0" r="4.0" fill="#fdb67c"/><circle cx="702" cy="904.8" r="4.0" fill="#fdb67c"/><circle cx="762" cy="927.0" r="4.0" fill="#fdb67c"/><circle cx="822" cy="927.0" r="4.0" fill="#fdb67c"/><circle cx="882" cy="927.0" r="4.0" fill="#fdb67c"/><circle cx="942" cy="927.0" r="4.0" fill="#fdb67c"/><circle cx="1002" cy="927.0" r="4.0" fill="#fdb67c"/><circle cx="1062" cy="927.0" r="4.0" fill="#fdb67c"/><circle cx="1122" cy="927.0" r="4.0" fill="#fdb67c"/><path clip-path="url(#lc)" d="M102 927.0 L162 927.0 L222 927.0 L282 927.0 L342 927.0 L402 927.0 L462 927.0 L522 927.0 L582 927.0 L642 927.0 L702 927.0 L762 927.0 L822 927.0 L882 927.0 L942 927.0 L1002 927.0 L1062 927.0 L1122 927.0" fill="none" stroke="#fb8260" stroke-width="2" stroke-linejoin="round"/><path d="M102 923.0 L106.0 927.0 L102 931.0 L98.0 927.0 Z" fill="#fb8260"/><path d="M162 923.0 L166.0 927.0 L162 931.0 L158.0 927.0 Z" fill="#fb8260"/><path d="M222 923.0 L226.0 927.0 L222 931.0 L218.0 927.0 Z" fill="#fb8260"/><path d="M282 923.0 L286.0 927.0 L282 931.0 L278.0 927.0 Z" fill="#fb8260"/><path d="M342 923.0 L346.0 927.0 L342 931.0 L338.0 927.0 Z" fill="#fb8260"/><path d="M402 923.0 L406.0 927.0 L402 931.0 L398.0 927.0 Z" fill="#fb8260"/><path d="M462 923.0 L466.0 927.0 L462 931.0 L458.0 927.0 Z" fill="#fb8260"/><path d="M522 923.0 L526.0 927.0 L522 931.0 L518.0 927.0 Z" fill="#fb8260"/><path d="M582 923.0 L586.0 927.0 L582 931.0 L578.0 927.0 Z" fill="#fb8260"/><path d="M642 923.0 L646.0 927.0 L642 931.0 L638.0 927.0 Z" fill="#fb8260"/><path d="M702 923.0 L706.0 927.0 L702 931.0 L698.0 927.0 Z" fill="#fb8260"/><path d="M762 923.0 L766.0 927.0 L762 931.0 L758.0 927.0 Z" fill="#fb8260"/><path d="M822 923.0 L826.0 927.0 L822 931.0 L818.0 927.0 Z" fill="#fb8260"/><path d="M882 923.0 L886.0 927.0 L882 931.0 L878.0 927.0 Z" fill="#fb8260"/><path d="M942 923.0 L946.0 927.0 L942 931.0 L938.0 927.0 Z" fill="#fb8260"/><path d="M1002 923.0 L1006.0 927.0 L1002 931.0 L998.0 927.0 Z" fill="#fb8260"/><path d="M1062 923.0 L1066.0 927.0 L1062 931.0 L1058.0 927.0 Z" fill="#fb8260"/><path d="M1122 923.0 L1126.0 927.0 L1122 931.0 L1118.0 927.0 Z" fill="#fb8260"/><path clip-path="url(#lc)" d="M102 927.0 L162 927.0 L222 927.0 L282 927.0 L342 927.0 L402 927.0 L462 927.0 L522 927.0 L582 927.0 L642 927.0 L702 919.6 L762 927.0 L822 927.0 L882 927.0 L942 927.0 L1002 927.0 L1062 927.0 L1122 927.0" fill="none" stroke="#e25563" stroke-width="2" stroke-linejoin="round"/><rect x="97.32" y="922.32" width="9.36" height="9.36" fill="#e25563"/><rect x="157.32" y="922.32" width="9.36" height="9.36" fill="#e25563"/><rect x="217.32" y="922.32" width="9.36" height="9.36" fill="#e25563"/><rect x="277.32" y="922.32" width="9.36" height="9.36" fill="#e25563"/><rect x="337.32" y="922.32" width="9.36" height="9.36" fill="#e25563"/><rect x="397.32" y="922.32" width="9.36" height="9.36" fill="#e25563"/><rect x="457.32" y="922.32" width="9.36" height="9.36" fill="#e25563"/><rect x="517.32" y="922.32" width="9.36" height="9.36" fill="#e25563"/><rect x="577.32" y="922.32" width="9.36" height="9.36" fill="#e25563"/><rect x="637.32" y="922.32" width="9.36" height="9.36" fill="#e25563"/><rect x="697.32" y="914.9200000000001" width="9.36" height="9.36" fill="#e25563"/><rect x="757.32" y="922.32" width="9.36" height="9.36" fill="#e25563"/><rect x="817.32" y="922.32" width="9.36" height="9.36" fill="#e25563"/><rect x="877.32" y="922.32" width="9.36" height="9.36" fill="#e25563"/><rect x="937.32" y="922.32" width="9.36" height="9.36" fill="#e25563"/><rect x="997.32" y="922.32" width="9.36" height="9.36" fill="#e25563"/><rect x="1057.32" y="922.32" width="9.36" height="9.36" fill="#e25563"/><rect x="1117.32" y="922.32" width="9.36" height="9.36" fill="#e25563"/><g font-size="11.5" fill="#54667a"><text x="57.5" y="779" text-anchor="end">75k</text><text x="57.5" y="829.6" text-anchor="end">50k</text><text x="57.5" y="880.2" text-anchor="end">25k</text><text x="57.5" y="930.8" text-anchor="end">0</text><text x="104.5" y="943" text-anchor="end" transform="rotate(-45 104.5 943)">Aug 2020</text><text x="164.5" y="943" text-anchor="end" transform="rotate(-45 164.5 943)">Sep 2020</text><text x="224.5" y="943" text-anchor="end" transform="rotate(-45 224.5 943)">Oct 2020</text><text x="284.5" y="943" text-anchor="end" transform="rotate(-45 284.5 943)">Nov 2020</text><text x="344.5" y="943" text-anchor="end" transform="rotate(-45 344.5 943)">Dec 2020</text><text x="404.5" y="943" text-anchor="end" transform="rotate(-45 404.5 943)">Jan 2021</text><text x="464.5" y="943" text-anchor="end" transform="rotate(-45 464.5 943)">Feb 2021</text><text x="524.5" y="943" text-anchor="end" transform="rotate(-45 524.5 943)">Mar 2021</text><text x="584.5" y="943" text-anchor="end" transform="rotate(-45 584.5 943)">Apr 2021</text><text x="644.5" y="943" text-anchor="end" transform="rotate(-45 644.5 943)">May 2021</text><text x="704.5" y="943" text-anchor="end" transform="rotate(-45 704.5 943)">Jun 2021</text><text x="764.5" y="943" text-anchor="end" transform="rotate(-45 764.5 943)">Jul 2021</text><text x="824.5" y="943" text-anchor="end" transform="rotate(-45 824.5 943)">Aug 2021</text><text x="884.5" y="943" text-anchor="end" transform="rotate(-45 884.5 943)">Sep 2021</text><text x="944.5" y="943" text-anchor="end" transform="rotate(-45 944.5 943)">Oct 2021</text><text x="1004.5" y="943" text-anchor="end" transform="rotate(-45 1004.5 943)">Nov 2021</text><text x="1064.5" y="943" text-anchor="end" transform="rotate(-45 1064.5 943)">Dec 2021</text><text x="1124.5" y="943" text-anchor="end" transform="rotate(-45 1124.5 943)">Jan 2022</text></g><g font-size="12.5" fill="#2b3a50"><path d="M176 1007.8 H194" stroke="#8fcea1" stroke-width="2"/><circle cx="185" cy="1007.8" r="4.0" fill="#8fcea1"/><text x="198.6" y="1011.9">Cogent (Transit)</text><path d="M460.5 1007.8 H478.5" stroke="#b3e0b6" stroke-width="2"/><path d="M469.5 1003.8 L473.5 1007.8 L469.5 1011.8 L465.5 1007.8 Z" fill="#b3e0b6"/><text x="483.1" y="1011.9">CenturyLink (Paid Private Peering)</text><path d="M745 1007.8 H763" stroke="#e9f3b0" stroke-width="2"/><rect x="750.0" y="1003.8" width="8.0" height="8.0" fill="#e9f3b0"/><text x="767.6" y="1011.9">NTT (Free Private Peering)</text><path d="M176 1022.9 H194" stroke="#fffcd2" stroke-width="2"/><path d="M185 1018.9 L189.0 1026.9 L181.0 1026.9 Z" fill="#fffcd2"/><text x="198.6" y="1027.0">NTT Communications (Transit)</text><path d="M460.5 1022.9 H478.5" stroke="#fee0a0" stroke-width="2"/><path d="M465.5 1018.9 L473.5 1018.9 L469.5 1026.9 Z" fill="#fee0a0"/><text x="483.1" y="1027.0">Charter (Free Private Peering)</text><path d="M745 1022.9 H763" stroke="#fdb67c" stroke-width="2"/><circle cx="754" cy="1022.9" r="4.0" fill="#fdb67c"/><text x="767.6" y="1027.0">Cablevision (Free Private Peering)</text><path d="M176 1038.0 H194" stroke="#fb8260" stroke-width="2"/><path d="M185 1034.0 L189.0 1038.0 L185 1042.0 L181.0 1038.0 Z" fill="#fb8260"/><text x="198.6" y="1042.1">XO Communications (Free Private Peering)</text><path d="M460.5 1038.0 H478.5" stroke="#e25563" stroke-width="2"/><rect x="465.5" y="1034.0" width="8.0" height="8.0" fill="#e25563"/><text x="483.1" y="1042.1">Telia (Free Private Peering)</text></g></svg>
<section class="card" style="left:9px;top:1095px;width:1170px;height:230px"></section>
<div class="t" style="left:26px;top:1115px;font-size:14.5px;font-weight:700;letter-spacing:-.2px">Providers</div>
<div class="pill" style="left:98px;top:1112.5px;font-weight:700;font-size:12px;padding:0 8px">14</div>
<div class="tbl">
<div class="r h" style="top:0;border-top:0;font-weight:700">
<span class="c" style="left:12px">Provider</span>
<span class="c" style="left:183.5px;color:#1a7df0">Cost<svg style="margin-left:2px;vertical-align:0" width="10" height="8" viewBox="0 0 10 8"><path d="M1.2 1.8 L5 5.6 L8.8 1.8" fill="none" stroke="#1a7df0" stroke-width="1.7" stroke-linecap="round" stroke-linejoin="round"/></svg></span>
<span class="c ra" style="right:682px">Cost per Mbps</span>
<span class="c ra" style="right:454.79999999999995px">Ingress (Mbps)</span>
<span class="c ra" style="right:227.70000000000005px">Egress (Mbps)</span>
<span class="c ra" style="right:12.700000000000045px">Traffic (Mbps)</span>
</div>
<div class="r" style="top:31px">
<span class="c" style="left:12px">NTT Communic…</span>
<span class="c ra" style="right:909px">$7,700</span>
<span class="bd bg" style="width:57.6px;left:239px"><svg class="ti" width="13" height="8" viewBox="0 0 13 8"><path d="M0.6 0.7 L4.7 4.8 L6.9 2.1 L10.4 5.6" fill="none" stroke="#16995a" stroke-width="1.35" stroke-linecap="round" stroke-linejoin="round"/><path d="M12.3 3.6 V7.2 H8.6 Z" fill="#16995a"/></svg><b style="letter-spacing:-1.15px">17%</b></span>
<span class="c ra" style="right:682px">$4.08</span>
<span class="bd br" style="width:65.5px;left:466px"><svg class="ti" width="13" height="8" viewBox="0 0 13 8"><path d="M0.6 7.1 L4.7 2.9 L6.9 5.6 L10.4 2.2" fill="none" stroke="#db3737" stroke-width="1.35" stroke-linecap="round" stroke-linejoin="round"/><path d="M12.3 4.2 V0.6 H8.6 Z" fill="#db3737"/></svg><b style="letter-spacing:-0.76px">103%</b></span>
<span class="c ra" style="right:454.79999999999995px;">1,717.14</span>
<span class="bd bg" style="width:59.4px;left:694.2px"><svg class="ti" width="13" height="8" viewBox="0 0 13 8"><path d="M0.6 0.7 L4.7 4.8 L6.9 2.1 L10.4 5.6" fill="none" stroke="#16995a" stroke-width="1.35" stroke-linecap="round" stroke-linejoin="round"/><path d="M12.3 3.6 V7.2 H8.6 Z" fill="#16995a"/></svg><b style="letter-spacing:-0.64px">55%</b></span>
<span class="c ra" style="right:227.70000000000005px;">1,197.42</span>
<span class="bd bg" style="width:59.1px;left:921px"><svg class="ti" width="13" height="8" viewBox="0 0 13 8"><path d="M0.6 0.7 L4.7 4.8 L6.9 2.1 L10.4 5.6" fill="none" stroke="#16995a" stroke-width="1.35" stroke-linecap="round" stroke-linejoin="round"/><path d="M12.3 3.6 V7.2 H8.6 Z" fill="#16995a"/></svg><b style="letter-spacing:-0.74px">27%</b></span>
<span class="c ra" style="right:12.200000000000045px;font-weight:700;letter-spacing:.55px">1,887.23</span>
</div>
<div class="r" style="top:64px">
<span class="c" style="left:12px">CenturyLink</span>
<span class="c ra" style="right:909px">$6,000</span>
<span class="bd bn" style="width:29.8px;left:239px"><svg class="ti" width="13" height="8" viewBox="0 0 13 8"><path d="M0.7 4 H9" fill="none" stroke="#3b4a5c" stroke-width="1.3" stroke-linecap="round"/><path d="M12.3 4 L8.6 1.7 V6.3 Z" fill="#3b4a5c"/></svg></span>
<span class="c ra" style="right:682px">$6.90</span>
<span class="bd bg" style="width:52.4px;left:466px"><svg class="ti" width="13" height="8" viewBox="0 0 13 8"><path d="M0.6 0.7 L4.7 4.8 L6.9 2.1 L10.4 5.6" fill="none" stroke="#16995a" stroke-width="1.35" stroke-linecap="round" stroke-linejoin="round"/><path d="M12.3 3.6 V7.2 H8.6 Z" fill="#16995a"/></svg><b style="letter-spacing:-0.84px">2%</b></span>
<span class="c ra" style="right:454.79999999999995px;font-weight:700;letter-spacing:.55px">869.44</span>
<span class="bd br" style="width:52.4px;left:694.2px"><svg class="ti" width="13" height="8" viewBox="0 0 13 8"><path d="M0.6 7.1 L4.7 2.9 L6.9 5.6 L10.4 2.2" fill="none" stroke="#db3737" stroke-width="1.35" stroke-linecap="round" stroke-linejoin="round"/><path d="M12.3 4.2 V0.6 H8.6 Z" fill="#db3737"/></svg><b style="letter-spacing:-0.84px">2%</b></span>
<span class="c ra" style="right:227.70000000000005px;">103.65</span>
<span class="bd bg" style="width:59.9px;left:921px"><svg class="ti" width="13" height="8" viewBox="0 0 13 8"><path d="M0.6 0.7 L4.7 4.8 L6.9 2.1 L10.4 5.6" fill="none" stroke="#16995a" stroke-width="1.35" stroke-linecap="round" stroke-linejoin="round"/><path d="M12.3 3.6 V7.2 H8.6 Z" fill="#16995a"/></svg><b style="letter-spacing:-0.47px">69%</b></span>
<span class="c ra" style="right:12.200000000000045px;font-weight:700;letter-spacing:.55px">869.44</span>
</div>
<div class="r" style="top:97px">
<span class="c" style="left:12px">XO Communicat…</span>
<span class="c ra" style="right:909px">$1,440</span>
<span class="bd bn" style="width:29.8px;left:239px"><svg class="ti" width="13" height="8" viewBox="0 0 13 8"><path d="M0.7 4 H9" fill="none" stroke="#3b4a5c" stroke-width="1.3" stroke-linecap="round"/><path d="M12.3 4 L8.6 1.7 V6.3 Z" fill="#3b4a5c"/></svg></span>
<span class="c ra" style="right:682px">$0.78</span>
<span class="bd br" style="width:52.4px;left:466px"><svg class="ti" width="13" height="8" viewBox="0 0 13 8"><path d="M0.6 7.1 L4.7 2.9 L6.9 5.6 L10.4 2.2" fill="none" stroke="#db3737" stroke-width="1.35" stroke-linecap="round" stroke-linejoin="round"/><path d="M12.3 4.2 V0.6 H8.6 Z" fill="#db3737"/></svg><b style="letter-spacing:-0.84px">2%</b></span>
<span class="c ra" style="right:454.79999999999995px;">874.03</span>
<span class="bd bn" style="width:29.8px;left:694.2px"><svg class="ti" width="13" height="8" viewBox="0 0 13 8"><path d="M0.7 4 H9" fill="none" stroke="#3b4a5c" stroke-width="1.3" stroke-linecap="round"/><path d="M12.3 4 L8.6 1.7 V6.3 Z" fill="#3b4a5c"/></svg></span>
<span class="c ra" style="right:227.70000000000005px;font-weight:700;letter-spacing:.55px">1,856.14</span>
<span class="bd bg" style="width:51.6px;left:921px"><svg class="ti" width="13" height="8" viewBox="0 0 13 8"><path d="M0.6 0.7 L4.7 4.8 L6.9 2.1 L10.4 5.6" fill="none" stroke="#16995a" stroke-width="1.35" stroke-linecap="round" stroke-linejoin="round"/><path d="M12.3 3.6 V7.2 H8.6 Z" fill="#16995a"/></svg><b style="letter-spacing:-1.15px">3%</b></span>
<span class="c ra" style="right:12.200000000000045px;font-weight:700;letter-spacing:.55px">1,856.14</span>
</div>
<div class="r" style="top:130px">
<span class="c" style="left:12px">ATT</span>
<span class="c ra" style="right:909px">$1,122.86</span>
<span class="bd bg" style="width:50.6px;left:239px"><svg class="ti" width="13" height="8" viewBox="0 0 13 8"><path d="M0.6 0.7 L4.7 4.8 L6.9 2.1 L10.4 5.6" fill="none" stroke="#16995a" stroke-width="1.35" stroke-linecap="round" stroke-linejoin="round"/><path d="M12.3 3.6 V7.2 H8.6 Z" fill="#16995a"/></svg><b style="letter-spacing:-1.15px">1%</b></span>
<span class="c ra" style="right:682px">$0.50</span>
<span class="bd bn" style="width:29.8px;left:466px"><svg class="ti" width="13" height="8" viewBox="0 0 13 8"><path d="M0.7 4 H9" fill="none" stroke="#3b4a5c" stroke-width="1.3" stroke-linecap="round"/><path d="M12.3 4 L8.6 1.7 V6.3 Z" fill="#3b4a5c"/></svg></span>
<span class="c ra" style="right:454.79999999999995px;font-weight:700;letter-spacing:.55px">2,245.73</span>
<span class="bd bg" style="width:50.6px;left:694.2px"><svg class="ti" width="13" height="8" viewBox="0 0 13 8"><path d="M0.6 0.7 L4.7 4.8 L6.9 2.1 L10.4 5.6" fill="none" stroke="#16995a" stroke-width="1.35" stroke-linecap="round" stroke-linejoin="round"/><path d="M12.3 3.6 V7.2 H8.6 Z" fill="#16995a"/></svg><b style="letter-spacing:-1.15px">1%</b></span>
<span class="c ra" style="right:227.70000000000005px;">908.34</span>
<span class="bd bg" style="width:59.9px;left:921px"><svg class="ti" width="13" height="8" viewBox="0 0 13 8"><path d="M0.6 0.7 L4.7 4.8 L6.9 2.1 L10.4 5.6" fill="none" stroke="#16995a" stroke-width="1.35" stroke-linecap="round" stroke-linejoin="round"/><path d="M12.3 3.6 V7.2 H8.6 Z" fill="#16995a"/></svg><b style="letter-spacing:-0.47px">43%</b></span>
<span class="c ra" style="right:12.200000000000045px;font-weight:700;letter-spacing:.55px">2,245.73</span>
</div>
</div>
<div class="abs" style="left:0;top:1300px;width:1575px;height:11px;background:#eff1f5"></div>
<div class="abs" style="left:1202px;top:87px;width:1px;height:1213px;background:#d0d5dc"></div>
<div class="t" style="left:1227.5px;top:112.5px;font-size:14.5px;font-weight:700;letter-spacing:.05px">January 2022</div>
<div class="dow" style="left:1227.7px">Mo</div>
<div class="dow" style="left:1275.6px">Tu</div>
<div class="dow" style="left:1323.5px">We</div>
<div class="dow" style="left:1371.4px">Th</div>
<div class="dow" style="left:1419.3px">Fr</div>
<div class="dow" style="left:1467.2px">Sa</div>
<div class="dow" style="left:1515.1px">Su</div>
<div class="cal">
<div class="e"></div>
<div class="e"></div>
<div class="e"></div>
<div class="e"></div>
<div class="e"></div>
<div>1<i></i><em>11</em></div>
<div>2</div>
<div>3</div>
<div>4</div>
<div>5</div>
<div>6</div>
<div>7<i></i><em>1</em></div>
<div>8</div>
<div>9</div>
<div>10<i></i><em>1</em></div>
<div class="sel">11</div>
<div>12<i></i><em>1</em></div>
<div>13</div>
<div>14</div>
<div>15<i></i><em>1</em></div>
<div>16</div>
<div>17</div>
<div>18<i></i><em>1</em></div>
<div>19</div>
<div>20</div>
<div>21</div>
<div>22</div>
<div>23</div>
<div>24</div>
<div>25</div>
<div>26</div>
<div>27</div>
<div>28</div>
<div>29</div>
<div>30</div>
<div>31</div>
<div class="e"></div>
<div class="e"></div>
<div class="e"></div>
<div class="e"></div>
<div class="e"></div>
<div class="e"></div>
</div>
<div class="t" style="left:1227.5px;top:431px;font-size:14px;font-weight:700">Today</div>
<div class="card" style="left:1226px;top:452px;width:337px;height:44px;border-radius:3px"></div>
<div class="t muted" style="left:1243px;top:467.5px;font-size:14.5px">No providers have invoices due today</div>
<div class="abs" style="left:1227px;top:555px;width:335px;height:1px;background:#cdd2d9"></div>
<div class="abs" style="left:1233px;top:519px;width:118px;height:37px;border:1px solid #cdd2d9;border-bottom:0;border-top:3px solid #1a7df0;border-radius:3px 3px 0 0;background:#eff1f5"></div>
<div class="t" style="left:1250px;top:533px;font-size:14px;font-weight:700">Invoices</div>
<div class="abs" style="left:1314px;top:532.5px;width:20px;height:15.5px;border-radius:8px;background:#2f8fd8;color:#fff;font-size:11.5px;font-weight:700;text-align:center;line-height:15.5px">3</div>
<div class="t muted" style="left:1367.5px;top:533px;font-size:14px;font-weight:700;letter-spacing:.15px">Contracts</div>
<div class="abs" style="left:1442px;top:532.5px;width:20px;height:15.5px;border-radius:8px;background:#ef5153;color:#fff;font-size:11.5px;font-weight:700;text-align:center;line-height:15.5px">0</div>
<div class="t muted" style="left:1227.5px;top:575px;font-size:14.5px">These invoices are due in the next 7 days.</div>
<div class="card" style="left:1226px;top:605.0px;width:337px;height:143px"></div>
<svg class="abs" style="left:1283px;top:618.7px" width="100" height="41" viewBox="0 0 100 41"><defs><clipPath id="ag"><circle cx="20" cy="20" r="20"/></clipPath></defs><g clip-path="url(#ag)" fill="#00a8e0"><ellipse cx="19.7" cy="4.25" rx="11.7" ry="4.05"/><path d="M0 8.6 Q20 15.10 40 8.8 L40 11.6 Q20 19.85 0 9.5 Z"/><path d="M0 14.3 Q20 23.75 40 13.4 L40 18.5 Q20 29.25 0 17.4 Z"/><path d="M0 20.7 Q20 32.30 40 20.7 L40 26.1 Q20 35.25 0 25.4 Z"/><path d="M0 28.3 Q20 38.25 40 27.6 L40 32.0 Q20 41.80 0 30.0 Z"/><path d="M0 33.5 Q20 42.10 40 33.5 L40 41 Q20 43.00 0 41 Z"/></g><text x="47.1" y="28" font-family="Liberation Sans, sans-serif" font-weight="700" font-size="22.6" textLength="50" lengthAdjust="spacingAndGlyphs" fill="#000">AT&amp;T</text></svg>
<span class="abs" style="left:1508px;top:629.0px;line-height:0"><svg width="14" height="16" viewBox="0 0 14 16"><path d="M1.6 7.4 V12.9 a1.6 1.6 0 0 0 1.6 1.6 H10.8 a1.6 1.6 0 0 0 1.6 -1.6 V7.4" fill="none" stroke="#53677b" stroke-width="1.35" stroke-linecap="round"/><path d="M7 10.1 V1.6 M4.2 4.1 L7 1.3 L9.8 4.1" fill="none" stroke="#53677b" stroke-width="1.35" stroke-linecap="round" stroke-linejoin="round"/></svg></span><span class="abs" style="left:1533.5px;top:635.0px;line-height:0"><svg width="9" height="6" viewBox="0 0 9 6"><path d="M0.3 0.3 H8.5 L4.4 5.2 Z" fill="#53677b"/></svg></span>
<div class="t" style="left:1243px;top:678.5px;font-size:16px;font-weight:700;color:#1a7df0;letter-spacing:-.1px">ATT</div>
<div class="pill" style="right:29px;top:676.0px">January 12th</div>
<div class="t muted" style="left:1243px;top:714.0px;font-size:14.5px;letter-spacing:-.05px">ATT Cost Group</div>
<div class="abs" style="right:29px;top:711.0px;display:flex;align-items:center"><span class="muted" style="font-size:14.5px;letter-spacing:-.1px;margin-right:8px;line-height:19px">$1,122.86</span><span class="bd bg" style="width:50.6px;"><svg class="ti" width="13" height="8" viewBox="0 0 13 8"><path d="M0.6 0.7 L4.7 4.8 L6.9 2.1 L10.4 5.6" fill="none" stroke="#16995a" stroke-width="1.35" stroke-linecap="round" stroke-linejoin="round"/><path d="M12.3 3.6 V7.2 H8.6 Z" fill="#16995a"/></svg><b style="letter-spacing:-1.15px">1%</b></span></div>
<div class="card" style="left:1226px;top:762.0px;width:337px;height:143px"></div>
<svg class="abs" style="left:1275px;top:770px" width="60" height="52" viewBox="0 0 60 52"><defs><clipPath id="xs"><path id="xsp" d="M8 12 L13 9 Q14 6 18.5 6 Q30 7.3 45 13 Q47 14 47.05 16.5 L47.3 21 L46.5 32 Q45.5 38 43.5 41 Q42.5 43 40 43 Q30 46.3 20 45.7 Q11 45.5 10 41.5 Q8.3 30 8 12 Z"/></clipPath></defs><path d="M8 12 L13 9 Q14 6 18.5 6 Q30 7.3 45 13 Q47 14 47.05 16.5 L47.3 21 L46.5 32 Q45.5 38 43.5 41 Q42.5 43 40 43 Q30 46.3 20 45.7 Q11 45.5 10 41.5 Q8.3 30 8 12 Z" fill="#962d91"/><path clip-path="url(#xs)" d="M7 10.5 L16.9 27.2 L11 36.5 L16 36.5 L19 31.5 Q23 38 33.5 44.8 L37 49 L5 49 Z" fill="#5c166b"/><path d="M8 12 L13.2 9 L19.8 22.5 L22.3 27.3 Q27.5 38 37.5 44.2 L33.5 44.9 Q23 38 19 31.5 L16.9 27.2 Z" fill="#fff"/><path d="M24.3 17.7 L29 17.7 L16 36.5 L11 36.5 Z" fill="#fff"/><circle cx="37.76" cy="27.03" r="9.9" fill="#fff"/><circle cx="37.76" cy="27.03" r="5.65" fill="#962d91"/><text x="47.4" y="40.1" font-size="3.5" font-weight="700" fill="#962d91" font-family="Liberation Sans, sans-serif">TM</text></svg>
<span class="abs" style="left:1508px;top:786.0px;line-height:0"><svg width="14" height="16" viewBox="0 0 14 16"><path d="M1.6 7.4 V12.9 a1.6 1.6 0 0 0 1.6 1.6 H10.8 a1.6 1.6 0 0 0 1.6 -1.6 V7.4" fill="none" stroke="#53677b" stroke-width="1.35" stroke-linecap="round"/><path d="M7 10.1 V1.6 M4.2 4.1 L7 1.3 L9.8 4.1" fill="none" stroke="#53677b" stroke-width="1.35" stroke-linecap="round" stroke-linejoin="round"/></svg></span><span class="abs" style="left:1533.5px;top:792.0px;line-height:0"><svg width="9" height="6" viewBox="0 0 9 6"><path d="M0.3 0.3 H8.5 L4.4 5.2 Z" fill="#53677b"/></svg></span>
<div class="t" style="left:1243px;top:835.5px;font-size:16px;font-weight:700;color:#1a7df0;letter-spacing:-.1px">XO Communications</div>
<div class="pill" style="right:29px;top:833.0px">January 15th</div>
<div class="t muted" style="left:1243px;top:871.0px;font-size:14.5px;letter-spacing:-.05px">North America</div>
<div class="abs" style="right:29px;top:868.0px;display:flex;align-items:center"><span class="muted" style="font-size:14.5px;letter-spacing:-.1px;margin-right:8px;line-height:19px">$1,440</span><span class="bd bn" style="width:29.8px;"><svg class="ti" width="13" height="8" viewBox="0 0 13 8"><path d="M0.7 4 H9" fill="none" stroke="#3b4a5c" stroke-width="1.3" stroke-linecap="round"/><path d="M12.3 4 L8.6 1.7 V6.3 Z" fill="#3b4a5c"/></svg></span></div>
<div class="card" style="left:1226px;top:919.0px;width:337px;height:143px"></div>
<svg class="abs" style="left:1275px;top:926px" width="100" height="52" viewBox="0 0 100 52"><g fill="#e20074"><path d="M8.1 7 H40.3 L40.6 21 H38.2 Q36.5 9.5 27.6 8.9 V39 Q27.8 43.6 34 44 V46.9 H14.3 V44 Q20.8 43.6 21 39 V8.9 Q12 9.5 10.2 21 H8.1 Z"/><rect x="8.1" y="25.4" width="7.8" height="7.9"/><rect x="32.6" y="25.4" width="7.9" height="7.9"/><rect x="57" y="25.4" width="7.9" height="7.9"/><rect x="81.1" y="25.4" width="7.8" height="7.9"/></g></svg>
<span class="abs" style="left:1508px;top:943.0px;line-height:0"><svg width="14" height="16" viewBox="0 0 14 16"><path d="M1.6 7.4 V12.9 a1.6 1.6 0 0 0 1.6 1.6 H10.8 a1.6 1.6 0 0 0 1.6 -1.6 V7.4" fill="none" stroke="#53677b" stroke-width="1.35" stroke-linecap="round"/><path d="M7 10.1 V1.6 M4.2 4.1 L7 1.3 L9.8 4.1" fill="none" stroke="#53677b" stroke-width="1.35" stroke-linecap="round" stroke-linejoin="round"/></svg></span><span class="abs" style="left:1533.5px;top:949.0px;line-height:0"><svg width="9" height="6" viewBox="0 0 9 6"><path d="M0.3 0.3 H8.5 L4.4 5.2 Z" fill="#53677b"/></svg></span>
<div class="t" style="left:1243px;top:992.5px;font-size:16px;font-weight:700;color:#1a7df0;letter-spacing:-.1px">DTAG</div>
<div class="pill" style="right:29px;top:990.0px">January 18th</div>
<div class="t muted" style="left:1243px;top:1028.0px;font-size:14.5px;letter-spacing:-.05px">Example Cost Group</div>
<div class="abs" style="right:29px;top:1025.0px;display:flex;align-items:center"><span class="muted" style="font-size:14.5px;letter-spacing:-.1px;margin-right:8px;line-height:19px">$56.08</span><span class="bd bn" style="width:29.8px;"><svg class="ti" width="13" height="8" viewBox="0 0 13 8"><path d="M0.7 4 H9" fill="none" stroke="#3b4a5c" stroke-width="1.3" stroke-linecap="round"/><path d="M12.3 4 L8.6 1.7 V6.3 Z" fill="#3b4a5c"/></svg></span></div>
</body></html>
